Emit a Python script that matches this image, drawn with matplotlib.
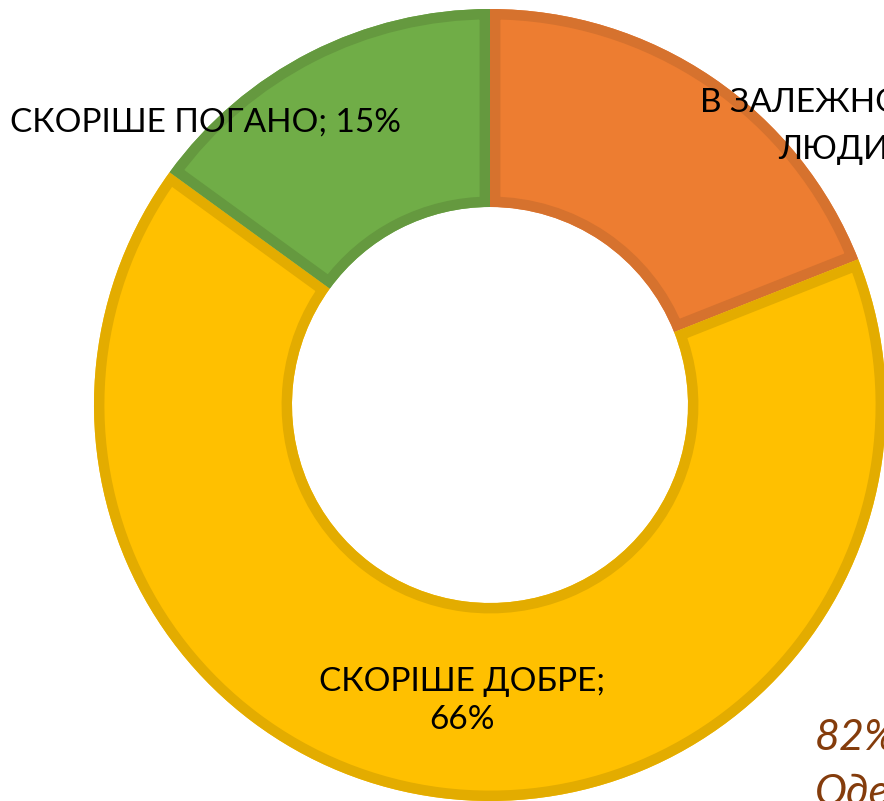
import matplotlib
matplotlib.use("Agg")
import matplotlib.pyplot as plt
from matplotlib.patches import Wedge

# ── Data ─────────────────────────────────────────────────────────────────────
categories = ["В ЗАЛЕЖНОСТІ ВІД ЛЮДИНИ", "СКОРІШЕ ДОБРЕ", "СКОРІШЕ ПОГАНО"]
shares = [19, 66, 15]
fills = ["#ED7D31", "#FFC000", "#70AD47"]
edges = ["#D6722E", "#E3AC00", "#65993F"]

note_lines = ["82%", "Оде"]

# ── Figure ───────────────────────────────────────────────────────────────────
plt.rcParams["font.family"] = ["Lato", "DejaVu Sans"]

fig = plt.figure(figsize=(8.84, 8.01), dpi=100)
ax = fig.add_axes([0, 0, 1, 1])
ax.set_xlim(0, 884)
ax.set_ylim(0, 801)

wedges, _ = ax.pie(
    shares,
    colors=fills,
    startangle=90,
    counterclock=False,
    center=(490, 396),
    radius=396,
    wedgeprops=dict(width=198, linewidth=0),
    frame=True,
)

# inner stroke: an edge-only copy of each wedge, clipped to the wedge shape
for w, ec in zip(wedges, edges):
    ring = Wedge(w.center, w.r, w.theta1, w.theta2, width=w.width,
                 facecolor="none", edgecolor=ec, linewidth=15)
    ax.add_patch(ring)
    ring.set_clip_path(ring.get_path(), ax.transData)

ax.set_xlim(0, 884)
ax.set_ylim(0, 801)
ax.set_aspect("equal")
ax.axis("off")

lab_kw = dict(fontsize=24, color="black", va="center")

# orange label wraps over two lines (cut by the right edge)
words = categories[0].split()
ax.text(700, 698, " ".join(words[:3]), ha="left", **lab_kw)
ax.text(778, 651, f"{words[3]}; {shares[0]}%", ha="left", **lab_kw)

ax.text(462, 100, f"{categories[1]};\n{shares[1]}%", ha="center",
        linespacing=1.3, **lab_kw)
ax.text(206, 678, f"{categories[2]}; {shares[2]}%", ha="center", **lab_kw)

note_kw = dict(fontsize=31, style="italic", color="#843C0C",
               ha="left", va="center")
ax.text(815, 63, note_lines[0], **note_kw)
ax.text(815, 8, note_lines[1], **note_kw)

fig.savefig("out.png", dpi=100)
